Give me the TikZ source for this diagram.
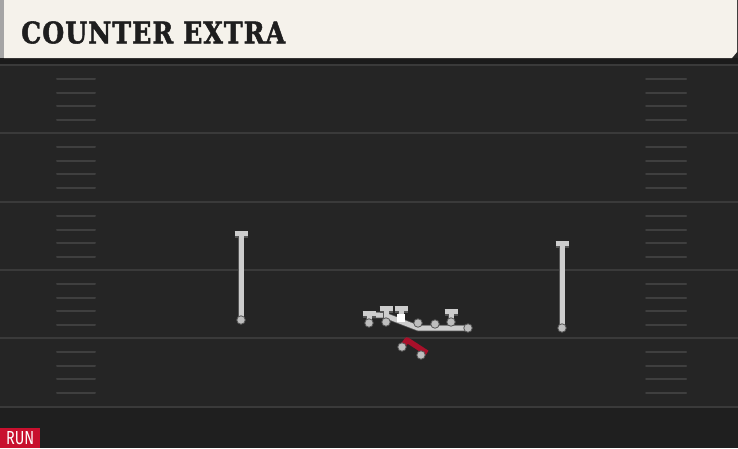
\documentclass[tikz,border=0pt]{standalone}
\usepackage{fontspec}
\usepackage{graphicx}
\usetikzlibrary{arrows.meta}
\newfontfamily\titlefont{DejaVu Serif Bold}[FakeBold=1.8,LetterSpace=4]
\newfontfamily\runfont{Fira Sans}
\definecolor{field}{HTML}{252525}
\definecolor{fielddark}{HTML}{1F1F1F}
\definecolor{bandc}{HTML}{1B1B1B}
\definecolor{cream}{HTML}{F5F2EB}
\definecolor{stripc}{HTML}{A5A5A5}
\definecolor{yardc}{HTML}{3A3A3A}
\definecolor{hashc}{HTML}{3F3F3F}
\definecolor{plgray}{HTML}{BDBDBD}
\definecolor{ploutline}{HTML}{555555}
\definecolor{routec}{HTML}{CDCDCD}
\definecolor{runred}{HTML}{C8102E}
\definecolor{routered}{HTML}{A8102A}
\definecolor{titlec}{HTML}{1E1E1E}
\pgfdeclarelayer{back}
\pgfdeclarelayer{bg}
\pgfsetlayers{back,bg,main}
\begin{document}
\begin{tikzpicture}[x=1pt,y=-1pt,
  yard/.style={draw=yardc,line width=2pt},
  hash/.style={draw=hashc,line width=2pt,line cap=round},
  player/.style={circle,fill=plgray,draw=ploutline,line width=0.8pt,minimum size=8.5pt,inner sep=0pt},
  centerbox/.style={rectangle,fill=white,minimum size=8pt,inner sep=0pt},
  route/.style={draw=routec,line width=5pt,line join=round,
    preaction={draw=ploutline,line width=6.5pt}},
  blockroute/.style={route,-{Bar[width=13pt]}},
  redroute/.style={draw=routered,line width=5.5pt,line join=round}]
\useasboundingbox (0,0) rectangle (738,448);
\begin{pgfonlayer}{back}
% field
\fill[field] (0,0) rectangle (738,448);
\fill[fielddark] (0,408) rectangle (738,448);
\fill[bandc] (0,58) rectangle (738,65);
% header
\fill[cream] (4,0) -- (737,0) -- (737,52) -- (732,58) -- (4,58) -- cycle;
\fill[stripc] (0,0) rectangle (4,58);
% yard lines and hashes
\foreach \y in {65,133,202,270,338,407} \draw[yard] (0,\y) -- (738,\y);
\foreach \b in {65,133,202,270,338} \foreach \d in {14,27.5,41,55} {
  \draw[hash] (57,\b+\d) -- (95,\b+\d);
  \draw[hash] (646,\b+\d) -- (686,\b+\d);
}
\end{pgfonlayer}
\node[anchor=west,inner sep=0pt,text=titlec] (title) at (21,32.5)
  {\resizebox{264pt}{22pt}{\titlefont COUNTER EXTRA}};
% players
\node[player] (wl) at (241,320) {};
\node[player] (wr) at (562,328) {};
\node[player] (lt) at (369,323) {};
\node[player] (lg) at (386,322) {};
\node[centerbox] (c) at (401,318) {};
\node[player] (rg) at (418,323) {};
\node[player] (rt) at (435,324) {};
\node[player] (te) at (451,322) {};
\node[player] (rb) at (402,347) {};
\node[player] (qb) at (421,355) {};
% route end points
\coordinate (wlT) at (241,231);
\coordinate (wrT) at (562,241);
\coordinate (ltT) at (369,311);
\coordinate (pullA) at (370,315);
\coordinate (pullB) at (384,315);
\coordinate (pullC) at (418,328);
\coordinate (pullEnd) at (468,328);
\coordinate (lgT) at (386,306);
\coordinate (cT) at (401,306);
\coordinate (teT) at (451,309);
\coordinate (rbA) at (407,340);
\coordinate (rbEnd) at (427,353);
\begin{pgfonlayer}{bg}
\draw[blockroute] (wl.center) -- (wlT);
\draw[blockroute] (wr.center) -- (wrT);
\draw[route] (pullA) -- (pullB) -- (pullC) -- (pullEnd);
\draw[blockroute] (lt.center) -- (ltT);
\draw[blockroute] (lg.center) -- (lgT);
\draw[blockroute] (c.center) -- (cT);
\draw[blockroute] (te.center) -- (teT);
\draw[redroute] (rb.center) -- (rbA) -- (rbEnd);
\end{pgfonlayer}
\node[player] (pullE) at (pullEnd) {};
% run label
\node[fill=runred,text=white,anchor=south west,minimum width=40pt,minimum height=20pt,inner sep=0pt] (run) at (0,448)
  {\resizebox{28pt}{13pt}{\runfont RUN}};
\end{tikzpicture}
\end{document}
